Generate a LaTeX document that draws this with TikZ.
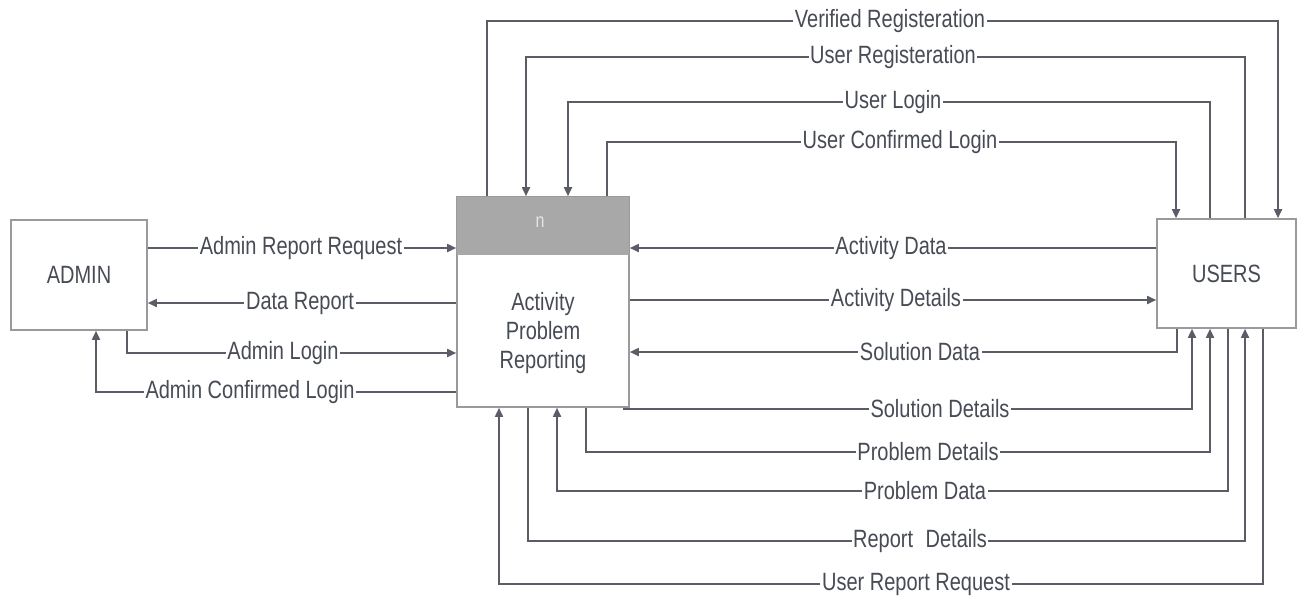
\documentclass[tikz,border=0pt]{standalone}
\usepackage{fontspec}
\setmainfont[FakeStretch=0.8]{Liberation Sans}
\usetikzlibrary{arrows.meta}
\definecolor{ln}{HTML}{5A5D66}
\definecolor{tx}{HTML}{474B55}
\definecolor{bd}{HTML}{9A9A9A}
\definecolor{hd}{HTML}{A8A8A8}
\begin{document}
\begin{tikzpicture}[x=0.5pt,y=-0.5pt,
  flow/.style={draw=ln,line width=0.85pt},
  arr/.style={flow,-{Triangle[length=4.5pt,width=4pt]}},
  lbl/.style={fill=white,text=tx,inner sep=0.8pt,font=\fontsize{12.5}{14}\selectfont},
  ent/.style={draw=bd,line width=0.8pt,fill=white,text=tx,font=\fontsize{12.5}{14}\selectfont,inner sep=0pt}]
\useasboundingbox (0,0) rectangle (1305,606);
% entities
\node[ent,minimum width=68pt,minimum height=55pt] (admin) at (79,275) {ADMIN};
\node[ent,minimum width=69.5pt,minimum height=54.5pt] (users) at (1226.5,273.5) {USERS};
\node[ent,minimum width=86pt,minimum height=105pt] (proc) at (543,302) {};
\fill[hd] ([xshift=0.4pt,yshift=-0.4pt]proc.north west) rectangle ([xshift=-0.4pt,yshift=-29.5pt]proc.north east);
\node[text=white!80!gray,font=\fontsize{10}{12}\selectfont] (hn) at (540,222) {n};
\node[text=tx,align=center,font=\fontsize{12.5}{14.5}\selectfont] (ptext) at (543,333) {Activity\\Problem\\Reporting};
% top flows
\draw[arr] (proc.north -| 487,0) -- (487,21) -| (users.north -| 1278,0);
\node[lbl] (l1) at (890,21) {Verified Registeration};
\draw[arr] (users.north -| 1245,0) -- (1245,57) -| (proc.north -| 526,0);
\node[lbl] (l2) at (893,57) {User Registeration};
\draw[arr] (users.north -| 1210,0) -- (1210,102) -| (proc.north -| 568,0);
\node[lbl] (l3) at (893,102) {User Login};
\draw[arr] (proc.north -| 607,0) -- (607,142) -| (users.north -| 1176,0);
\node[lbl] (l4) at (900,142) {User Confirmed Login};
% admin flows
\draw[arr] (admin.east |- 0,248) -- (proc.west |- 0,248);
\node[lbl] (l5) at (301,248) {Admin Report Request};
\draw[arr] (proc.west |- 0,303) -- (admin.east |- 0,303);
\node[lbl] (l6) at (300,303) {Data Report};
\draw[arr] (admin.south -| 127,0) |- (proc.west |- 0,353);
\node[lbl] (l7) at (283,353) {Admin Login};
\draw[arr] (proc.west |- 0,392) -| (admin.south -| 96,0);
\node[lbl] (l8) at (250,392) {Admin Confirmed Login};
% right flows
\draw[arr] (users.west |- 0,248) -- (proc.east |- 0,248);
\node[lbl] (l9) at (891,248) {Activity Data};
\draw[arr] (proc.east |- 0,300) -- (users.west |- 0,300);
\node[lbl] (l10) at (896,300) {Activity Details};
\draw[arr] (users.south -| 1177,0) |- (proc.east |- 0,352);
\node[lbl] (l11) at (920,352) {Solution Data};
% bottom flows
\draw[arr] (proc.south -| 624,0) -- (624,409) -| (users.south -| 1192,0);
\node[lbl] (l12) at (940,409) {Solution Details};
\draw[arr] (proc.south -| 586,0) -- (586,452) -| (users.south -| 1210,0);
\node[lbl] (l13) at (928,452) {Problem Details};
\draw[arr] (users.south -| 1228,0) -- (1228,491) -| (proc.south -| 557,0);
\node[lbl] (l14) at (925,491) {Problem Data};
\draw[arr] (proc.south -| 528,0) -- (528,541) -| (users.south -| 1245,0);
\node[lbl] (l15) at (920,541) {Report\enspace Details};
\draw[arr] (users.south -| 1263,0) -- (1263,584) -| (proc.south -| 499,0);
\node[lbl] (l16) at (916,584) {User Report Request};
\end{tikzpicture}
\end{document}
